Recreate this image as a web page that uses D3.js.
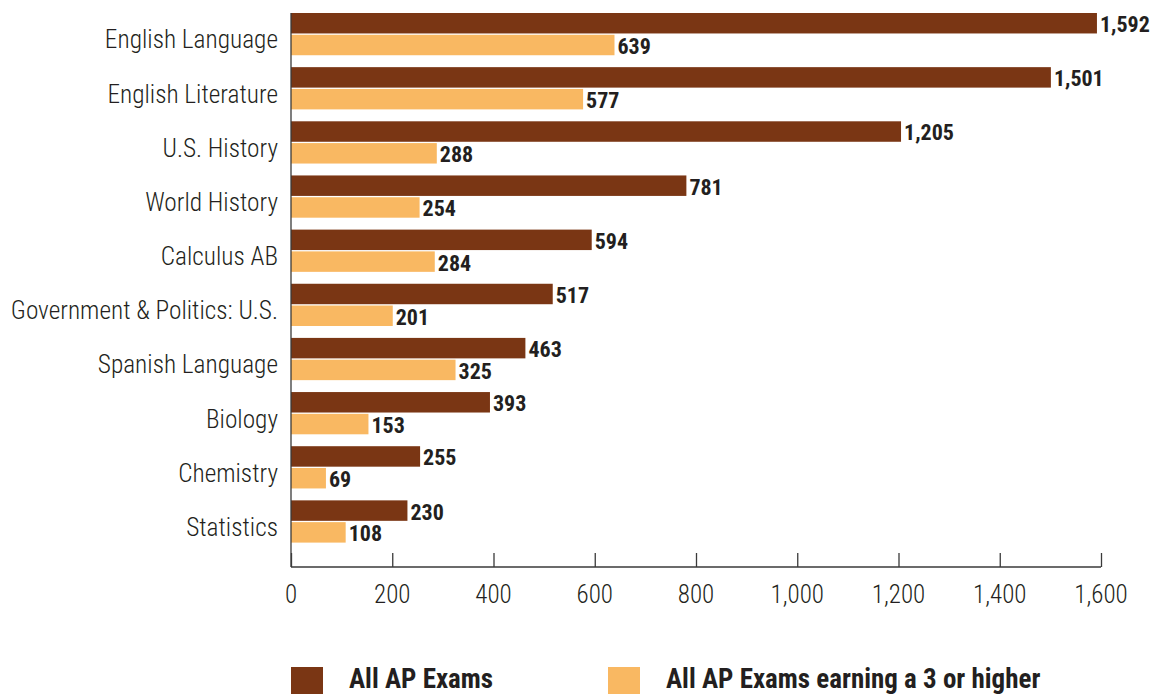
<!DOCTYPE html>
<html>
<head>
<meta charset="utf-8">
<script src="https://cdn.jsdelivr.net/npm/d3@7"></script>
<style>
  body { margin: 0; background: #fff; }
  svg { display: block; font-family: "Liberation Sans Narrow", "Roboto Condensed", "Arial Narrow", sans-serif; }
  .cat { font-size: 25.3px; font-weight: 300; fill: #231f20; }
  .tick-label { font-size: 25px; font-weight: 300; fill: #231f20; }
  .val { font-size: 22px; font-weight: bold; fill: #231f20; }
  .legend-text { font-size: 27px; font-weight: bold; fill: #231f20; }
</style>
</head>
<body>
<svg id="chart" width="1167" height="694"></svg>
<script>
  const subjects = ['English Language', 'English Literature', 'U.S. History',
      'World History', 'Calculus AB', 'Government & Politics: U.S.',
      'Spanish Language', 'Biology', 'Chemistry', 'Statistics'];
  const allExams = [1592, 1501, 1205, 781, 594, 517, 463, 393, 255, 230];
  const passExams = [639, 577, 288, 254, 284, 201, 325, 153, 69, 108];
  const seriesNames = ['All AP Exams', 'All AP Exams earning a 3 or higher'];
  const seriesColors = ['#7a3614', '#f9b862'];
  const xTicks = [0, 200, 400, 600, 800, 1000, 1200, 1400, 1600];

  (() => {
    const svg = d3.select('#chart');
    const left = 291, right = 1101, topY = 13, axisY = 567;

    const x = d3.scaleLinear().domain([0, 1600]).range([left, right]);

    const y = d3.scaleBand()
        .domain(subjects)
        .range([topY, 542.6])
        .paddingInner(0.22)
        .paddingOuter(0)
        .align(0);

    const ySub = d3.scaleBand()
        .domain([0, 1])
        .range([0, y.bandwidth()])
        .paddingInner(0.06);

    const data = subjects.map((s, i) => ({subject: s, values: [allExams[i], passExams[i]]}));

    const group = svg.append('g')
        .selectAll('g')
        .data(data)
        .enter().append('g')
        .attr('transform', d => `translate(0,${y(d.subject)})`);

    group.selectAll('rect')
        .data(d => d.values.map((v, k) => ({v, k})))
        .enter().append('rect')
        .attr('x', x(0))
        .attr('y', d => ySub(d.k))
        .attr('width', d => x(d.v) - x(0))
        .attr('height', ySub.bandwidth())
        .attr('fill', d => seriesColors[d.k]);

    group.selectAll('text.val')
        .data(d => d.values.map((v, k) => ({v, k})))
        .enter().append('text')
        .attr('class', 'val')
        .attr('x', d => x(d.v) + 3)
        .attr('y', d => ySub(d.k) + ySub.bandwidth() / 2 + 1)
        .attr('dy', '0.36em')
        .text(d => d3.format(',')(d.v));

    // category labels
    svg.append('g')
        .selectAll('text')
        .data(subjects)
        .enter().append('text')
        .attr('class', 'cat')
        .attr('text-anchor', 'end')
        .attr('x', 278)
        .attr('y', d => y(d) + y.bandwidth() / 2 + 5.5)
        .attr('dy', '0.35em')
        .text(d => d);

    // axis lines
    svg.append('line')
        .attr('x1', left).attr('x2', left)
        .attr('y1', topY).attr('y2', axisY)
        .attr('stroke', '#3a3a3a').attr('stroke-width', 1.3);

    const xAxis = svg.append('g')
        .attr('transform', `translate(0,${axisY})`)
        .call(d3.axisTop(x).tickValues(xTicks).tickSize(14).tickFormat(''));
    xAxis.select('.domain').remove();
    xAxis.selectAll('line').attr('stroke', '#3a3a3a').attr('stroke-width', 1.3);
    xAxis.append('line')
        .attr('x1', left).attr('x2', right)
        .attr('stroke', '#3a3a3a').attr('stroke-width', 1.3);

    svg.append('g')
        .selectAll('text')
        .data(xTicks)
        .enter().append('text')
        .attr('class', 'tick-label')
        .attr('text-anchor', 'middle')
        .attr('x', d => x(d))
        .attr('y', 594)
        .attr('dy', '0.35em')
        .text(d => d3.format(',')(d));

    // legend
    const legendX = [291, 608];
    const legend = svg.append('g')
        .selectAll('g')
        .data(seriesNames)
        .enter().append('g')
        .attr('transform', (d, i) => `translate(${legendX[i]},667)`);

    legend.append('rect')
        .attr('width', 32)
        .attr('height', 30)
        .attr('fill', (d, i) => seriesColors[i]);

    legend.append('text')
        .attr('class', 'legend-text')
        .attr('x', 58)
        .attr('y', 21)
        .text(d => d);
  })();
</script>
</body>
</html>
